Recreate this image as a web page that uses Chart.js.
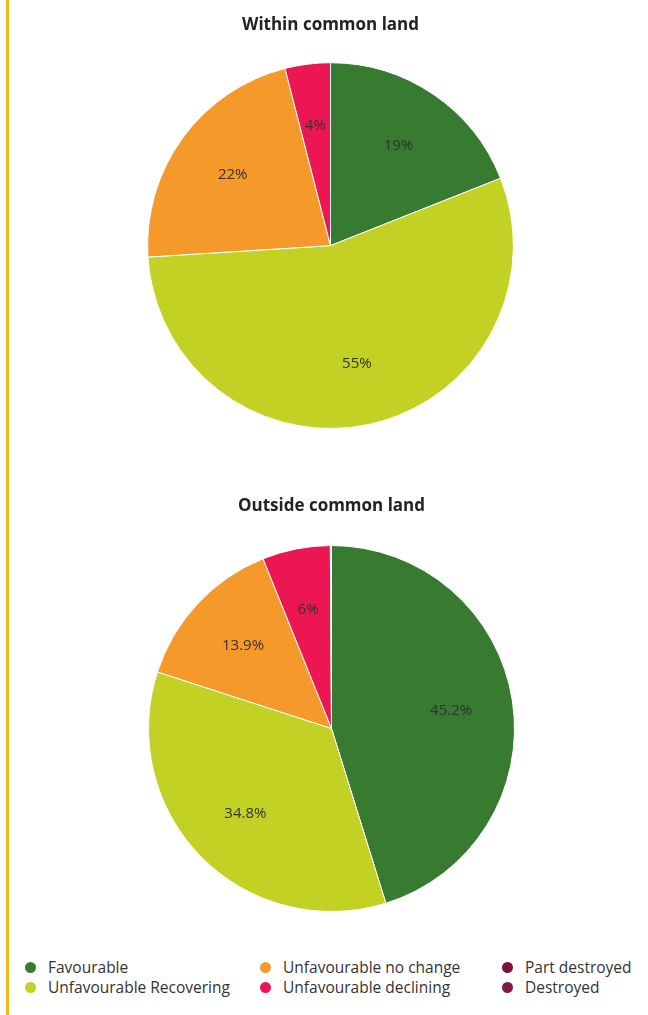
<!DOCTYPE html>
<html>
<head>
<meta charset="utf-8">
<script src="https://cdn.jsdelivr.net/npm/chart.js@4.4.1/dist/chart.umd.min.js"></script>
<style>
  html, body { margin: 0; padding: 0; background: #fff; }
  body { width: 648px; height: 1015px; position: relative; overflow: hidden; font-family: "Open Sans", "Noto Sans", sans-serif; }
  #bar { position: absolute; left: 6px; top: 0; width: 3px; height: 1015px; background: #FCB813; }
  .wrap { position: absolute; left: 0; width: 648px; }
  #w1 { top: 0; height: 430px; }
  #w2 { top: 470px; height: 443px; }
  #legend { position: absolute; left: 25px; top: 957px; display: grid; grid-auto-flow: column;
            grid-template-rows: 20px 20px; grid-template-columns: 235px 242px 130px; }
  .item { display: flex; align-items: center; font-size: 15.5px; color: #333; white-space: nowrap; }
  .dot { width: 11px; height: 11px; border-radius: 50%; margin-right: 12px; flex: none; }
</style>
</head>
<body>
<div id="bar"></div>
<div class="wrap" id="w1"><canvas id="c1"></canvas></div>
<div class="wrap" id="w2"><canvas id="c2"></canvas></div>
<div id="legend"></div>
<script>
const categories = ['Favourable', 'Unfavourable Recovering', 'Unfavourable no change', 'Unfavourable declining', 'Part destroyed', 'Destroyed'];
const withinValues = [19, 55, 22, 4, 0, 0];
const outsideValues = [45.2, 34.8, 13.9, 6, 0.1, 0];
const colors = ['#367B2F', '#C2D123', '#F6992B', '#EC1752', '#7B1240', '#86184A'];
const titles = ['Within common land', 'Outside common land'];

const pctLabels = {
  id: 'pctLabels',
  afterDatasetsDraw(chart) {
    const ctx = chart.ctx;
    const meta = chart.getDatasetMeta(0);
    const vals = chart.data.datasets[0].data;
    ctx.save();
    ctx.font = '15px "Open Sans", "Noto Sans", sans-serif';
    ctx.fillStyle = '#333';
    ctx.textAlign = 'center';
    ctx.textBaseline = 'middle';
    meta.data.forEach((arc, i) => {
      const v = vals[i];
      if (v < 1) return;
      const p = arc.getProps(['x', 'y', 'startAngle', 'endAngle', 'outerRadius'], true);
      const mid = (p.startAngle + p.endAngle) / 2;
      const r = p.outerRadius - 62;
      ctx.fillText(v + '%', p.x + Math.cos(mid) * r, p.y + Math.sin(mid) * r);
    });
    ctx.restore();
  }
};

function makePie(id, title, values, padLeft, padTop, padBottom) {
  return new Chart(document.getElementById(id), {
    type: 'pie',
    data: {
      labels: categories,
      datasets: [{ data: values, backgroundColor: colors, borderColor: '#fff', borderWidth: 1 }]
    },
    options: {
      responsive: true,
      maintainAspectRatio: false,
      animation: false,
      layout: { padding: { left: padLeft, right: 0, top: 0, bottom: 1 } },
      plugins: {
        legend: { display: false },
        tooltip: { enabled: false },
        title: {
          display: true, text: title, color: '#222',
          font: { family: '"Open Sans", "Noto Sans", sans-serif', size: 17, weight: 'bold', lineHeight: 1.2 },
          padding: { top: padTop, bottom: padBottom }
        }
      }
    },
    plugins: [pctLabels]
  });
}

makePie('c1', titles[0], withinValues, 13, 15, 26.8);
makePie('c2', titles[1], outsideValues, 15, 25.8, 28.8);

const legend = document.getElementById('legend');
categories.forEach((c, i) => {
  const it = document.createElement('div');
  it.className = 'item';
  const d = document.createElement('span');
  d.className = 'dot';
  d.style.background = colors[i];
  it.appendChild(d);
  it.appendChild(document.createTextNode(c));
  legend.appendChild(it);
});
</script>
</body>
</html>
